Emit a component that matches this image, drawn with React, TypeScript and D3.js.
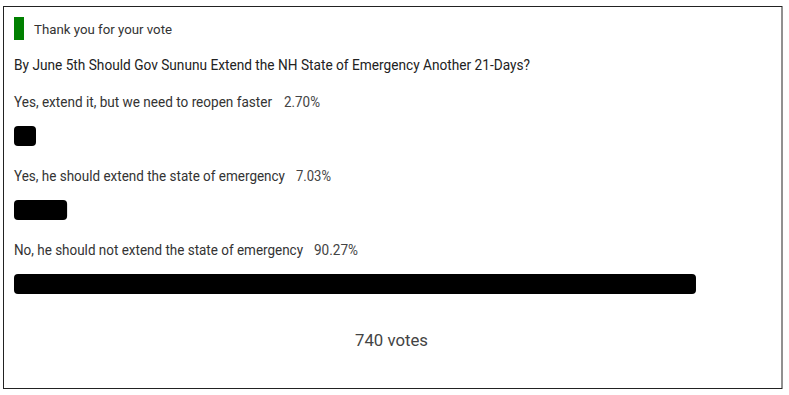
import React from "react";
import * as d3 from "d3";

const title = "Thank you for your vote";
const question = "By June 5th Should Gov Sununu Extend the NH State of Emergency Another 21-Days?";
const options = [
  "Yes, extend it, but we need to reopen faster",
  "Yes, he should extend the state of emergency",
  "No, he should not extend the state of emergency",
];
const percents = [2.7, 7.03, 90.27];
const pctLabels = ["2.70%", "7.03%", "90.27%"];
const totalVotes = 740;

// measured text widths (layout)
const labelWidths = [258, 271, 289];
const pctWidths = [36, 35, 44];
const pctX = [284, 296, 314];

export default function App() {
  const W = 789, H = 395;
  const x = d3.scaleLinear().domain([0, 100]).range([0, 755.5]);
  const row = d3.scalePoint<number>().domain(d3.range(options.length)).range([107, 255]);
  const font = "Roboto, 'Noto Sans', sans-serif";
  return (
    <svg width={W} height={H} style={{ position: "absolute", left: 0, top: 0 }}>
      <rect x={3.5} y={6.5} width={778.5} height={382} fill="#fff" stroke="#222" strokeWidth={1} />
      <rect x={14} y={17} width={10} height={23} fill="#008000" />
      <text x={34} y={34} fontFamily={font} fontSize={13.5} fill="#333" textLength={138} lengthAdjust="spacingAndGlyphs">{title}</text>
      <text x={14} y={69.5} fontFamily={font} fontSize={15.5} fill="#222" textLength={516} lengthAdjust="spacingAndGlyphs">{question}</text>
      {options.map((o, i) => {
        const by = row(i)!;
        const w = Math.max(x(percents[i]), 22);
        return (
          <g key={i}>
            <text x={14} y={by} fontFamily={font} fontSize={14} fill="#333" textLength={labelWidths[i]} lengthAdjust="spacingAndGlyphs">{o}</text>
            <text x={pctX[i]} y={by} fontFamily={font} fontSize={14} fill="#444" textLength={pctWidths[i]} lengthAdjust="spacingAndGlyphs">{pctLabels[i]}</text>
            <rect x={14} y={by + 19} width={w} height={20} rx={4} ry={4} fill="#000" />
          </g>
        );
      })}
      <text x={391.5} y={345.5} textAnchor="middle" fontFamily={font} fontSize={17} fill="#444" textLength={73} lengthAdjust="spacingAndGlyphs">{`${totalVotes} votes`}</text>
    </svg>
  );
}
